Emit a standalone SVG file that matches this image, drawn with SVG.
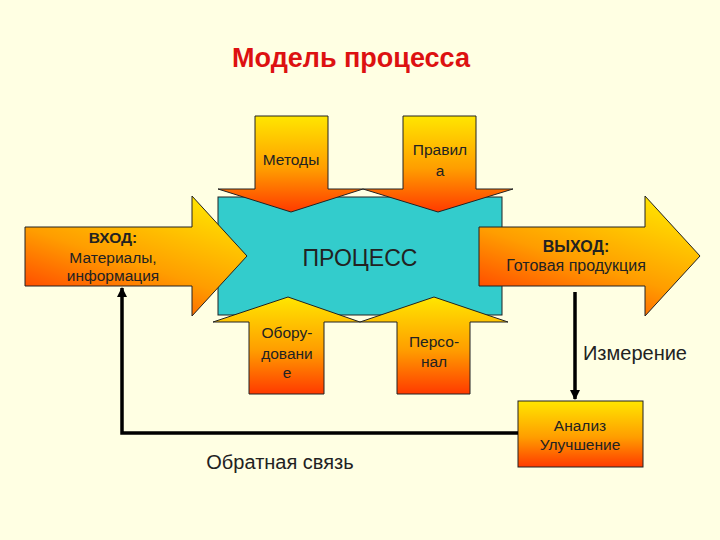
<svg xmlns="http://www.w3.org/2000/svg" width="720" height="540" viewBox="0 0 720 540">
<defs>
<linearGradient id="gv" x1="0" y1="0" x2="0" y2="1">
<stop offset="0" stop-color="#FFE600"/>
<stop offset="0.55" stop-color="#FF9D00"/>
<stop offset="1" stop-color="#FF3A00"/>
</linearGradient>
<linearGradient id="gd" x1="0.8" y1="0" x2="0.2" y2="1">
<stop offset="0" stop-color="#FFE600"/>
<stop offset="0.55" stop-color="#FF9D00"/>
<stop offset="1" stop-color="#FF3A00"/>
</linearGradient>
<marker id="ah" viewBox="0 0 10 10" refX="9" refY="5" markerWidth="3" markerHeight="3" orient="auto-start-reverse" markerUnits="strokeWidth">
<path d="M0,0 L10,5 L0,10 z" fill="#000"/>
</marker>
<style>
.arr{fill:url(#gv);stroke:#222;stroke-width:1}
.harr{fill:url(#gd);stroke:#222;stroke-width:1}
.t{font-family:"Liberation Sans",Arial,sans-serif;fill:#222;text-anchor:middle}
.conn{fill:none;stroke:#000;stroke-width:3.5}
</style>
</defs>
<rect width="720" height="540" fill="#FFFFE3"/>
<text x="351" y="67" font-family="Liberation Sans,Arial,sans-serif" font-size="27" font-weight="bold" fill="#DD1111" text-anchor="middle">Модель процесса</text>

<g id="process">
<rect x="218" y="197" width="284" height="118" fill="#33CCCC" stroke="#222" stroke-width="1"/>
<text class="t" x="360" y="266" font-size="23">ПРОЦЕСС</text>
</g>

<g id="methods">
<path class="arr" d="M255,116 H328 V189 H363 L291,212 L218,189 H255 Z"/>
<text class="t" x="291" y="165" font-size="15.5">Методы</text>
</g>
<g id="rules">
<path class="arr" d="M403,116 H476 V189 H513 L438,212 L363,189 H403 Z"/>
<text class="t" x="440" y="155" font-size="15.5">Правил</text>
<text class="t" x="440" y="176" font-size="15.5">а</text>
</g>
<g id="equipment">
<path class="arr" d="M249,394 H324 V322 H360 L288,297 L213,322 H249 Z"/>
<text class="t" x="287" y="338" font-size="15.5">Обору-</text>
<text class="t" x="287" y="359" font-size="15.5">довани</text>
<text class="t" x="287" y="378" font-size="15.5">е</text>
</g>
<g id="personnel">
<path class="arr" d="M397,394 H470 V322 H508 L434,297 L360,322 H397 Z"/>
<text class="t" x="434" y="347" font-size="15.5">Персо-</text>
<text class="t" x="434" y="367" font-size="15.5">нал</text>
</g>
<g id="input">
<path class="harr" d="M25,227 H192 V196 L247,256 L192,316 V286 H25 Z"/>
<text class="t" x="113" y="243" font-size="15.5" font-weight="bold">ВХОД:</text>
<text class="t" x="113" y="263" font-size="15.5">Материалы,</text>
<text class="t" x="113" y="281" font-size="15.5">информация</text>
</g>
<g id="output">
<path class="harr" d="M479,227 H645 V196 L700,256 L645,316 V286 H479 Z"/>
<text class="t" x="576" y="252" font-size="16" font-weight="bold">ВЫХОД:</text>
<text class="t" x="576" y="271" font-size="16">Готовая продукция</text>
</g>
<g id="analysis">
<rect x="518" y="401" width="125" height="66" class="arr"/>
<text class="t" x="580" y="431" font-size="15.5">Анализ</text>
<text class="t" x="580" y="450" font-size="15.5">Улучшение</text>
</g>

<g id="connectors">
<line class="conn" x1="575" y1="292" x2="575" y2="399" marker-end="url(#ah)"/>
<polyline class="conn" points="518,433 122,433 122,288" marker-end="url(#ah)"/>
</g>
<text class="t" x="635" y="360" font-size="20">Измерение</text>
<text class="t" x="280" y="469" font-size="20">Обратная связь</text>
</svg>
